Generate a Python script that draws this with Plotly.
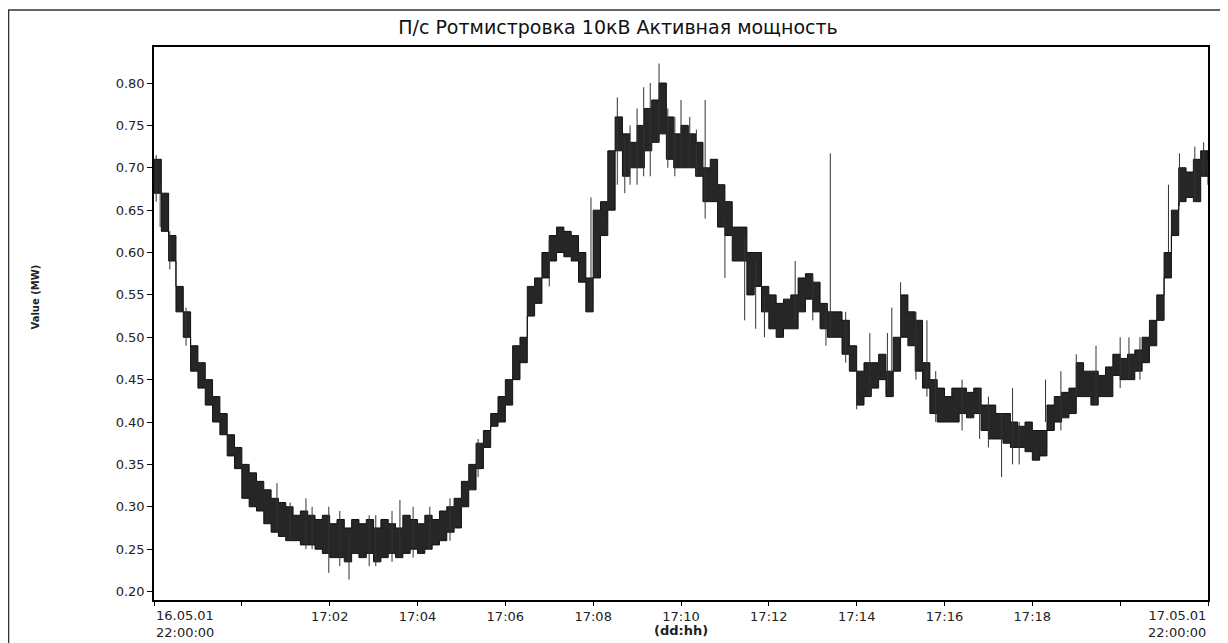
import pandas as pd
import plotly.graph_objects as go

# 10-minute samples from 16.05.01 22:00 to 17.05.01 22:00, band low / high (MW)
low = [
    0.67, 0.625, 0.59, 0.53, 0.50, 0.46, 0.44, 0.42, 0.40, 0.385,
    0.36, 0.345, 0.31, 0.30, 0.295, 0.28, 0.27, 0.265, 0.26, 0.26,
    0.255, 0.255, 0.25, 0.245, 0.24, 0.24, 0.235, 0.245, 0.24, 0.245,
    0.235, 0.24, 0.245, 0.24, 0.245, 0.25, 0.245, 0.25, 0.255, 0.26,
    0.27, 0.275, 0.30, 0.32, 0.345, 0.37, 0.395, 0.40, 0.42, 0.45,
    0.47, 0.525, 0.54, 0.57, 0.59, 0.60, 0.595, 0.59, 0.565, 0.53,
    0.57, 0.62, 0.65, 0.72, 0.69, 0.70, 0.70, 0.72, 0.73, 0.74,
    0.71, 0.70, 0.70, 0.70, 0.69, 0.66, 0.66, 0.63, 0.62, 0.59,
    0.59, 0.55, 0.56, 0.53, 0.51, 0.50, 0.51, 0.51, 0.53, 0.545,
    0.53, 0.51, 0.50, 0.50, 0.48, 0.46, 0.42, 0.43, 0.44, 0.45,
    0.43, 0.46, 0.50, 0.49, 0.46, 0.44, 0.41, 0.40, 0.40, 0.40,
    0.41, 0.405, 0.41, 0.39, 0.38, 0.38, 0.375, 0.37, 0.37, 0.365,
    0.355, 0.36, 0.39, 0.40, 0.405, 0.41, 0.43, 0.43, 0.42, 0.43,
    0.43, 0.455, 0.45, 0.45, 0.46, 0.47, 0.49, 0.52, 0.57, 0.62,
    0.66, 0.665, 0.66, 0.69, 0.68,
]
high = [
    0.71, 0.67, 0.62, 0.56, 0.53, 0.49, 0.47, 0.45, 0.43, 0.41,
    0.385, 0.37, 0.35, 0.34, 0.33, 0.32, 0.31, 0.305, 0.30, 0.29,
    0.295, 0.29, 0.285, 0.29, 0.28, 0.285, 0.275, 0.285, 0.28, 0.285,
    0.275, 0.285, 0.28, 0.275, 0.29, 0.285, 0.28, 0.29, 0.285, 0.295,
    0.30, 0.31, 0.33, 0.35, 0.375, 0.39, 0.41, 0.43, 0.45, 0.49,
    0.50, 0.56, 0.57, 0.60, 0.62, 0.63, 0.625, 0.62, 0.60, 0.57,
    0.65, 0.66, 0.72, 0.76, 0.74, 0.73, 0.75, 0.77, 0.78, 0.80,
    0.76, 0.74, 0.75, 0.74, 0.73, 0.70, 0.71, 0.68, 0.66, 0.63,
    0.63, 0.60, 0.60, 0.56, 0.55, 0.54, 0.545, 0.55, 0.57, 0.575,
    0.565, 0.54, 0.53, 0.53, 0.52, 0.49, 0.46, 0.47, 0.47, 0.48,
    0.46, 0.50, 0.55, 0.53, 0.52, 0.47, 0.45, 0.44, 0.43, 0.44,
    0.44, 0.435, 0.44, 0.42, 0.42, 0.41, 0.41, 0.40, 0.395, 0.40,
    0.39, 0.39, 0.42, 0.43, 0.435, 0.44, 0.47, 0.46, 0.46, 0.455,
    0.465, 0.48, 0.475, 0.48, 0.485, 0.50, 0.52, 0.55, 0.60, 0.65,
    0.70, 0.695, 0.71, 0.72, 0.71,
]

# isolated spikes: hours after 22:00, low, high
spike_hours = [
    0.05, 0.14, 0.36, 0.73, 2.8, 3.1, 3.46, 3.6, 3.98, 4.23, 4.44, 4.9, 5.05,
    5.42, 5.6, 5.9, 6.28, 6.74, 7.38, 9.0, 9.95, 10.55, 10.72, 10.84, 11.0,
    11.15, 11.3, 11.5, 11.7, 11.86, 12.0, 12.2, 12.35, 12.55, 13.0, 13.45,
    13.7, 13.9, 14.6, 15.0, 15.3, 15.4, 15.75, 16.0, 16.3, 16.7, 16.8, 17.0,
    17.35, 17.6, 17.8, 18.4, 18.8, 19.0, 19.3, 19.55, 19.7, 20.3, 20.65,
    21.0, 21.45, 22.0, 22.2, 22.45, 23.1, 23.35, 23.7, 23.9,
]
spike_low = [
    0.66, 0.63, 0.58, 0.49, 0.27, 0.26, 0.25, 0.25, 0.222, 0.23, 0.214, 0.23, 0.23,
    0.235, 0.24, 0.24, 0.25, 0.26, 0.335, 0.56, 0.532, 0.68, 0.67, 0.68, 0.68,
    0.69, 0.69, 0.73, 0.70, 0.69, 0.70, 0.70, 0.69, 0.64, 0.57, 0.52,
    0.51, 0.50, 0.52, 0.52, 0.49, 0.50, 0.47, 0.415, 0.43, 0.44, 0.46, 0.50,
    0.45, 0.43, 0.40, 0.39, 0.38, 0.37, 0.335, 0.35, 0.35, 0.40, 0.39,
    0.42, 0.42, 0.44, 0.45, 0.45, 0.60, 0.655, 0.66, 0.69,
]
spike_high = [
    0.715, 0.68, 0.625, 0.535, 0.328, 0.305, 0.31, 0.30, 0.30, 0.295, 0.27, 0.29, 0.29,
    0.295, 0.308, 0.30, 0.30, 0.31, 0.38, 0.615, 0.665, 0.783, 0.735, 0.75, 0.77,
    0.795, 0.80, 0.823, 0.77, 0.76, 0.78, 0.76, 0.745, 0.78, 0.64, 0.62,
    0.59, 0.55, 0.59, 0.571, 0.54, 0.717, 0.53, 0.46, 0.505, 0.505, 0.535, 0.565,
    0.53, 0.52, 0.46, 0.45, 0.44, 0.43, 0.41, 0.44, 0.40, 0.45, 0.46,
    0.48, 0.49, 0.50, 0.50, 0.50, 0.68, 0.717, 0.725, 0.73,
]

tick_text = ["", "", "17:02", "17:04", "17:06", "17:08", "17:10",
             "17:12", "17:14", "17:16", "17:18", "", ""]

start = pd.Timestamp("2001-05-16 22:00")
end = pd.Timestamp("2001-05-17 22:00")
step = pd.Timedelta(minutes=10)

times = [start + i * step for i in range(len(low))]

sx, sy = [], []
for h, lo, hi in zip(spike_hours, spike_low, spike_high):
    t = start + pd.Timedelta(hours=h)
    sx += [t, t, None]
    sy += [lo, hi, None]

tick_vals = [start + pd.Timedelta(hours=2 * k) for k in range(13)]

fig = go.Figure()
fig.add_trace(go.Scatter(x=times, y=low, mode="lines", line=dict(color="#111", width=1, shape="hv"),
                         showlegend=False, hoverinfo="skip"))
fig.add_trace(go.Scatter(x=times, y=high, mode="lines", line=dict(color="#111", width=1, shape="hv"),
                         fill="tonexty", fillcolor="#262626", showlegend=False, hoverinfo="skip"))
fig.add_trace(go.Scatter(x=sx, y=sy, mode="lines", line=dict(color="#333", width=1),
                         showlegend=False, hoverinfo="skip"))

font = "DejaVu Sans, Arial, sans-serif"
# page body has an 8px margin, so the figure is 8px smaller than the window
fig.update_layout(
    width=1220, height=635,
    margin=dict(l=146, r=20, t=39, b=43),
    paper_bgcolor="white", plot_bgcolor="white",
    font=dict(family=font, size=13, color="#222"),
    title=dict(text="П/с Ротмистровка 10кВ Активная мощность", x=0.5, xanchor="center",
               y=1 - 19 / 635, yanchor="middle", font=dict(size=19, color="#111")),
)
fig.update_xaxes(
    type="date", range=[start, end],
    tickvals=tick_vals, ticktext=tick_text,
    ticks="outside", ticklen=4, tickcolor="black", tickwidth=1,
    showline=True, linecolor="black", linewidth=1.5, mirror=True,
    showgrid=False, zeroline=False,
)
fig.update_yaxes(
    range=[0.19, 0.8425], tick0=0.2, dtick=0.05, tickformat=".2f",
    ticks="outside", ticklen=5, tickcolor="black", tickwidth=1,
    showline=True, linecolor="black", linewidth=1.5, mirror=True,
    showgrid=False, zeroline=False,
)

# end labels of the time axis
fig.add_annotation(x=start, y=-0.011, xref="x", yref="paper", xanchor="left", yanchor="top",
                   text="16.05.01<br>22:00:00", showarrow=False, align="left")
fig.add_annotation(x=end, y=-0.011, xref="x", yref="paper", xanchor="right", yanchor="top",
                   text="17.05.01<br>22:00:00", showarrow=False, align="right")
fig.add_annotation(x=start + pd.Timedelta(hours=12), y=-0.055, xref="x", yref="paper",
                   yanchor="middle", text="<b>(dd:hh)</b>", showarrow=False)
fig.add_annotation(x=-0.1195, y=0.548, xref="paper", yref="paper", textangle=-90,
                   text="<b>Value (MW)</b>", showarrow=False, font=dict(size=10))

# outer frame of the printed sheet
fig.add_shape(type="rect", xref="paper", yref="paper", x0=-0.138, x1=1.0133, y0=-0.12, y1=1.0669,
              line=dict(color="#333", width=1.5))

fig.write_html("out.html")
